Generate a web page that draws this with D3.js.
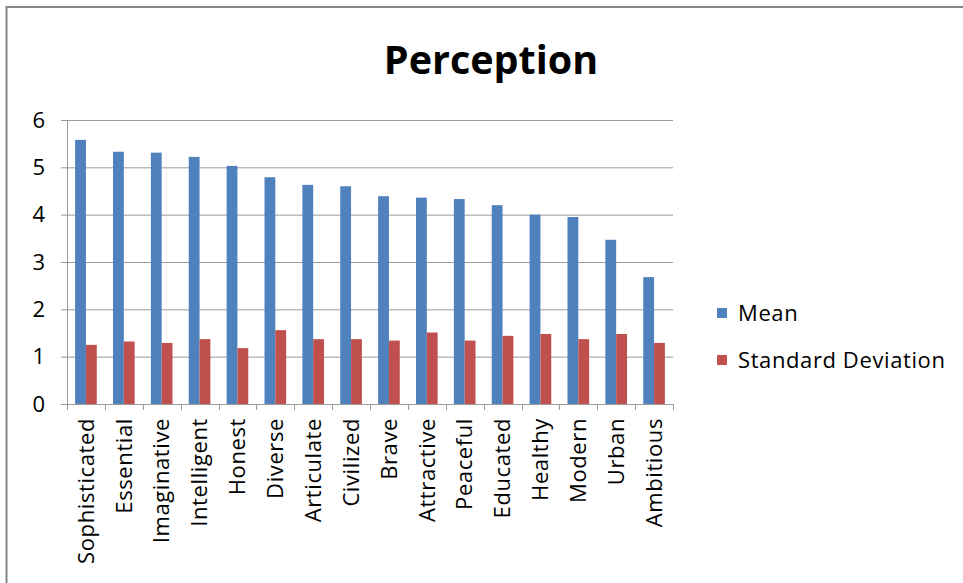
<!DOCTYPE html>
<html>
<head>
<meta charset="utf-8">
<script src="https://cdn.jsdelivr.net/npm/d3@7"></script>
<style>
  body { margin: 0; background: #fff; }
  svg { display: block; }
</style>
</head>
<body>
<div id="chart"></div>
<script>
const categories = ['Sophisticated', 'Essential', 'Imaginative', 'Intelligent', 'Honest', 'Diverse',
  'Articulate', 'Civilized', 'Brave', 'Attractive', 'Peaceful', 'Educated', 'Healthy', 'Modern',
  'Urban', 'Ambitious'];
const meanValues = [5.58, 5.33, 5.31, 5.22, 5.03, 4.79, 4.63, 4.60, 4.39, 4.36, 4.33, 4.20, 4.00, 3.95, 3.47, 2.68];
const sdValues = [1.25, 1.32, 1.29, 1.37, 1.18, 1.56, 1.37, 1.37, 1.34, 1.51, 1.34, 1.44, 1.48, 1.37, 1.48, 1.29];
const seriesNames = ['Mean', 'Standard Deviation'];
const seriesColors = ['#4F81BD', '#C0504D'];
const yTicks = [0, 1, 2, 3, 4, 5, 6];

const width = 963;
const height = 583;
const plot = { left: 67, right: 673, top: 120, bottom: 404 };
const font = '"Open Sans", Calibri, sans-serif';
const labelSize = '22px';
const labelSpacing = '0.6px';

const svg = d3.select('#chart')
  .append('svg')
  .attr('width', width)
  .attr('height', height)
  .style('font-family', font);

// outer chart frame
svg.append('rect')
  .attr('x', 6.5)
  .attr('y', 7)
  .attr('width', width + 10)
  .attr('height', height + 10)
  .attr('fill', 'none')
  .attr('stroke', '#868686')
  .attr('stroke-width', 2);

// title
svg.append('text')
  .attr('x', 491)
  .attr('y', 74)
  .attr('text-anchor', 'middle')
  .style('font-size', '39.5px')
  .style('font-weight', 'bold')
  .text('Perception');

const x = d3.scaleBand()
  .domain(categories)
  .range([plot.left, plot.right]);

const inner = d3.scaleBand()
  .domain(seriesNames)
  .range([0, x.bandwidth()])
  .paddingInner(0)
  .paddingOuter(0.75);

const y = d3.scaleLinear()
  .domain([0, 6])
  .range([plot.bottom, plot.top]);

// gridlines
svg.append('g')
  .selectAll('line')
  .data(yTicks)
  .join('line')
  .attr('x1', plot.left - 6)
  .attr('x2', plot.right)
  .attr('y1', d => y(d) + 0.5)
  .attr('y2', d => y(d) + 0.5)
  .attr('stroke', '#9a9a9a')
  .attr('stroke-width', 1);

// y labels
svg.append('g')
  .selectAll('text')
  .data(yTicks)
  .join('text')
  .attr('x', 45)
  .attr('y', d => y(d))
  .attr('dy', '0.35em')
  .attr('text-anchor', 'end')
  .style('font-size', labelSize)
  .text(d => d);

// bars
const rows = categories.map((c, i) => ({ cat: c, vals: [meanValues[i], sdValues[i]] }));

const groups = svg.append('g')
  .selectAll('g')
  .data(rows)
  .join('g')
  .attr('transform', d => `translate(${x(d.cat)},0)`);

groups.selectAll('rect')
  .data(d => d.vals.map((v, j) => ({ key: seriesNames[j], value: v, color: seriesColors[j] })))
  .join('rect')
  .attr('x', d => inner(d.key))
  .attr('y', d => y(d.value))
  .attr('width', inner.bandwidth())
  .attr('height', d => y(0) - y(d.value))
  .attr('fill', d => d.color);

// axes lines
svg.append('line')
  .attr('x1', plot.left + 0.5)
  .attr('x2', plot.left + 0.5)
  .attr('y1', plot.top)
  .attr('y2', plot.bottom)
  .attr('stroke', '#9a9a9a');

svg.append('line')
  .attr('x1', plot.left)
  .attr('x2', plot.right)
  .attr('y1', plot.bottom + 0.5)
  .attr('y2', plot.bottom + 0.5)
  .attr('stroke', '#9a9a9a');

// x tick marks at category boundaries
const boundaries = categories.map(c => x(c)).concat([plot.right]);
svg.append('g')
  .selectAll('line')
  .data(boundaries)
  .join('line')
  .attr('x1', d => Math.round(d) + 0.5)
  .attr('x2', d => Math.round(d) + 0.5)
  .attr('y1', plot.bottom)
  .attr('y2', plot.bottom + 6)
  .attr('stroke', '#9a9a9a');

// x labels, rotated
svg.append('g')
  .selectAll('text')
  .data(categories)
  .join('text')
  .attr('transform', d => `translate(${x(d) + x.bandwidth() / 2},${plot.bottom + 14}) rotate(-90)`)
  .attr('text-anchor', 'end')
  .attr('dy', '0.35em')
  .style('font-size', labelSize)
  .style('letter-spacing', labelSpacing)
  .text(d => d);

// legend
const legend = svg.append('g')
  .attr('transform', 'translate(717,313)');

seriesNames.forEach((name, i) => {
  const row = legend.append('g')
    .attr('transform', `translate(0, ${i * 47})`);

  row.append('rect')
    .attr('x', 0)
    .attr('y', -5)
    .attr('width', 10)
    .attr('height', 10)
    .attr('fill', seriesColors[i]);

  row.append('text')
    .attr('x', 21)
    .attr('y', 0)
    .attr('dy', '0.35em')
    .style('font-size', labelSize)
    .style('letter-spacing', labelSpacing)
    .text(name);
});
</script>
</body>
</html>
